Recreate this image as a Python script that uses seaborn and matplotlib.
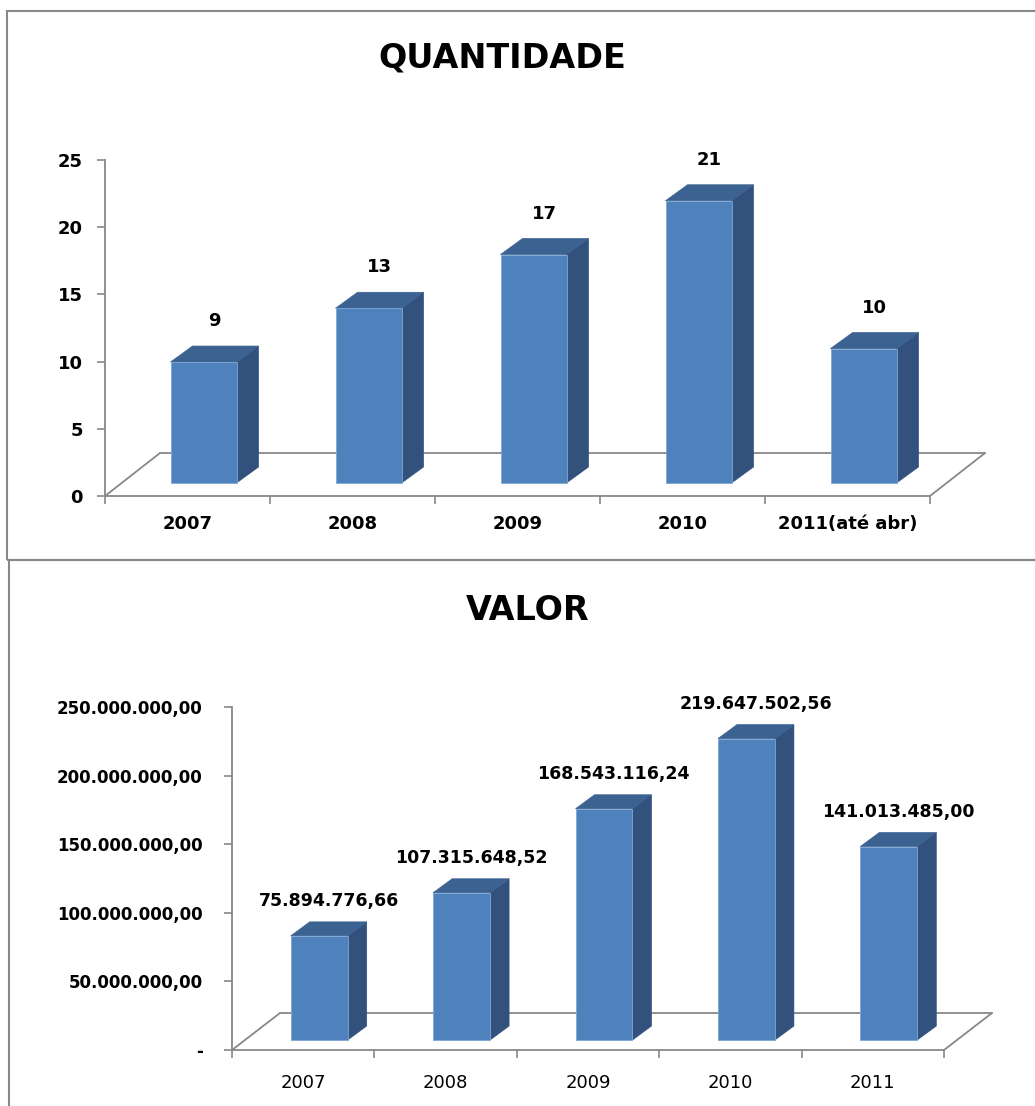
import matplotlib
matplotlib.use("Agg")
import matplotlib.pyplot as plt
from matplotlib.patches import Polygon, Rectangle
import seaborn as sns
import pandas as pd
import numpy as np

sns.set_theme(style="white")
plt.rcParams['font.family'] = ['DejaVu Sans']
plt.rcParams['text.color'] = 'black'
plt.rcParams['xtick.color'] = 'black'
plt.rcParams['ytick.color'] = 'black'
plt.rcParams['axes.labelcolor'] = 'black'

# Dados
anos_qtd = ['2007', '2008', '2009', '2010', '2011(até abr)']
quantidade = [9, 13, 17, 21, 10]

anos_valor = ['2007', '2008', '2009', '2010', '2011']
valor = [75894776.66, 107315648.52, 168543116.24, 219647502.56, 141013485.00]

ticks_qtd = [0, 5, 10, 15, 20, 25]
ticks_valor = [0, 50e6, 100e6, 150e6, 200e6, 250e6]

# Cores estilo Excel 2007
FRENTE = '#4F81BD'
LADO = '#32527D'
TOPO = '#3C6291'
CINZA = '#888888'

W, H = 1035, 1106
fig = plt.figure(figsize=(W / 100, H / 100), dpi=100)


def brl(v):
    # formato brasileiro 1.234.567,89
    return f'{v:,.2f}'.replace(',', 'X').replace('.', ',').replace('X', '.')


def grafico_3d(ax, df, ylim, ticks, ticklabels, desloc, prof, piso, gap,
               xlab_bold, xpad, ypad, fs_y, fs_x, fs_val, rotulos):
    sns.barplot(data=df, x='ano', y='v', ax=ax, color=FRENTE, saturation=1,
                width=0.4, edgecolor='#7EA6D6', linewidth=0.6, zorder=3)
    ax.set_xlim(-0.5, len(df) - 0.5)
    ax.set_ylim(*ylim)

    # pixels -> unidades de dados
    pos = ax.get_position()
    ux = pos.width * W / (len(df))
    uy = pos.height * H / (ylim[1] - ylim[0])
    sdx, sdy = desloc[0] / ux, desloc[1] / uy
    ddx, ddy = prof[0] / ux, prof[1] / uy
    fdx, fdy = piso[0] / ux, piso[1] / uy

    # piso
    x0, x1 = ax.get_xlim()
    kw = dict(color=CINZA, lw=1.3, clip_on=False, zorder=1)
    ax.plot([x0 + fdx, x1 + fdx], [fdy, fdy], **kw)
    ax.plot([x0, x0 + fdx], [0, fdy], **kw)
    ax.plot([x1, x1 + fdx], [0, fdy], **kw)

    for p, rot in zip(ax.patches, rotulos):
        h = p.get_height()
        p.set_x(p.get_x() + sdx)
        p.set_y(sdy)
        p.set_clip_on(False)
        a = p.get_x()
        b = a + p.get_width()
        top = sdy + h
        lado = Polygon([(b, sdy), (b, top), (b + ddx, top + ddy), (b + ddx, sdy + ddy)],
                       closed=True, facecolor=LADO, edgecolor=LADO, lw=0.5,
                       clip_on=False, zorder=2)
        topo = Polygon([(a, top), (b, top), (b + ddx, top + ddy), (a + ddx, top + ddy)],
                       closed=True, facecolor=TOPO, edgecolor=TOPO, lw=0.5,
                       clip_on=False, zorder=2)
        ax.add_patch(lado)
        ax.add_patch(topo)
        ax.text((a + b + ddx) / 2, top + ddy + gap / uy, rot, ha='center', va='center',
                fontsize=fs_val, fontweight='bold', color='black', zorder=5)

    ax.set_yticks(ticks)
    ax.set_yticklabels(ticklabels, fontsize=fs_y, fontweight='bold')
    ax.set_xticks(np.arange(-0.5, len(df), 1), minor=True)
    ax.set_xticks(range(len(df)))
    ax.set_xticklabels(df['ano'], fontsize=fs_x,
                       fontweight='bold' if xlab_bold else 'normal')
    ax.tick_params(axis='y', direction='out', length=6, width=1.2, color=CINZA,
                   labelcolor='black', pad=ypad, left=True)
    ax.tick_params(axis='x', which='major', length=0, pad=xpad, bottom=True,
                   labelcolor='black')
    ax.tick_params(axis='x', which='minor', direction='out', length=6, width=1.2,
                   color=CINZA, bottom=True)
    for s in ['top', 'right']:
        ax.spines[s].set_visible(False)
    for s in ['left', 'bottom']:
        ax.spines[s].set_color(CINZA)
        ax.spines[s].set_linewidth(1.3)
    ax.set_xlabel('')
    ax.set_ylabel('')
    ax.grid(False)
    ax.set_facecolor('none')


# QUANTIDADE
df_q = pd.DataFrame({'ano': anos_qtd, 'v': quantidade})
ax1 = fig.add_axes([105 / W, 1 - 496 / H, 825 / W, 336 / H])
grafico_3d(ax1, df_q, (0, 25), ticks_qtd, [str(t) for t in ticks_qtd],
           desloc=(16, 13), prof=(22, 16), piso=(55, 43), gap=25,
           xlab_bold=True, xpad=14, ypad=10, fs_y=13, fs_x=13, fs_val=13,
           rotulos=[str(v) for v in quantidade])

# VALOR
df_v = pd.DataFrame({'ano': anos_valor, 'v': valor})
ax2 = fig.add_axes([232 / W, 1 - 1050 / H, 712 / W, 343 / H])
grafico_3d(ax2, df_v, (0, 250e6), ticks_valor,
           ['-' if t == 0 else brl(t) for t in ticks_valor],
           desloc=(16, 10), prof=(19, 14), piso=(48, 37), gap=21,
           xlab_bold=False, xpad=17, ypad=15, fs_y=12, fs_x=13, fs_val=12.5,
           rotulos=[brl(v) for v in valor])

# Titulos
fig.text(502 / W, 1 - 68 / H, 'QUANTIDADE', ha='center', va='baseline',
         fontsize=24, fontweight='bold', color='black')
fig.text(528 / W, 1 - 620 / H, 'VALOR', ha='center', va='baseline',
         fontsize=24, fontweight='bold', color='black')

# Molduras
fig.add_artist(Rectangle((7 / W, 1 - 560 / H), (1045 - 7) / W, (560 - 11) / H,
                         transform=fig.transFigure, fill=False, edgecolor=CINZA, lw=1.5))
fig.add_artist(Rectangle((9 / W, 1 - 1115 / H), (1045 - 9) / W, (1115 - 560) / H,
                         transform=fig.transFigure, fill=False, edgecolor=CINZA, lw=1.5))

fig.savefig('out.png', dpi=100, facecolor='white')
